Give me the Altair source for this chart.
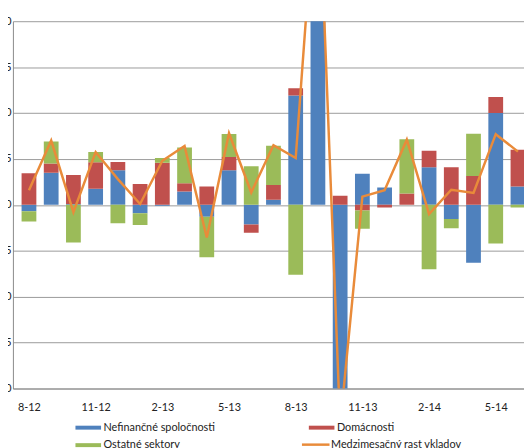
import altair as alt
import pandas as pd

months = ["8-12", "9-12", "10-12", "11-12", "12-12", "1-13", "2-13", "3-13", "4-13",
          "5-13", "6-13", "7-13", "8-13", "9-13", "10-13", "11-13", "12-13", "1-14",
          "2-14", "3-14", "4-14", "5-14", "6-14"]
nefinancne = [-0.07, 0.35, 0.01, 0.175, 0.376, -0.09, -0.01, 0.146, -0.13, 0.376, -0.215, 0.055,
              1.19, 3.8, -2.5, 0.34, 0.19, 0.0, 0.41, -0.155, -0.63, 1.0, 0.20]
domacnosti = [0.344, 0.10, 0.315, 0.29, 0.09, 0.226, 0.46, 0.09, 0.20, 0.145, -0.09, 0.16,
              0.08, 0.0, 0.10, -0.06, -0.03, 0.125, 0.18, 0.41, 0.315, 0.175, 0.40]
ostatne = [-0.11, 0.24, -0.41, 0.11, -0.20, -0.13, 0.05, 0.39, -0.44, 0.25, 0.42, 0.43,
           -0.76, 0.0, 0.0, -0.20, 0.0, 0.59, -0.70, -0.10, 0.46, -0.42, -0.03]
rast = [0.16, 0.70, -0.08, 0.575, 0.28, 0.01, 0.48, 0.64, -0.355, 0.78, 0.135, 0.65,
        0.51, 3.8, -2.4, 0.09, 0.16, 0.71, -0.10, 0.165, 0.13, 0.77, 0.58]

series_names = ["Nefinančné spoločnosti", "Domácnosti", "Ostatné sektory"]
series_colors = ["#4F81BD", "#C0504D", "#9BBB59"]
# legend fills column by column: order entries so the grid reads like the original
legend_order = ["Nefinančné spoločnosti", "Ostatné sektory", "Domácnosti"]
legend_colors = ["#4F81BD", "#9BBB59", "#C0504D"]
line_name = "Medzimesačný rast vkladov"
line_color = "#E98B3A"
tick_values_x = [0, 3, 6, 9, 12, 15, 18, 21]
tick_values_y = [-2, -1.5, -1, -0.5, 0, 0.5, 1, 1.5, 2]

rows = []
for k, (name, vals) in enumerate(zip(series_names, [nefinancne, domacnosti, ostatne])):
    for i, v in enumerate(vals):
        rows.append({"idx": i, "mesiac": months[i], "sektor": name, "hodnota": v, "poradie": k})
bars_df = pd.DataFrame(rows)
line_df = pd.DataFrame({"idx": list(range(len(months))), "mesiac": months,
                        "hodnota": rast, "nazov": [line_name] * len(months)})

month_expr = "[" + ",".join("'" + m + "'" for m in months) + "][datum.value]"

x_scale = alt.Scale(domain=[-0.5, 22.05], nice=False, zero=False)
y_scale = alt.Scale(domain=[-2, 2], nice=False)

x_axis = alt.Axis(values=tick_values_x, labelExpr=month_expr, grid=False, ticks=False,
                  domainColor="#8a8a8a", labelPadding=13, labelFontSize=11,
                  labelColor="#222222", title=None)
y_axis = alt.Axis(values=tick_values_y, labelExpr="replace(format(datum.value, '.1f'), '.', ',')",
                  grid=True, gridColor="#9a9a9a", domainColor="#8a8a8a", ticks=False,
                  labelPadding=2, labelFontSize=11, labelColor="#222222", title=None)

bar_symbol = "M-3.25,-0.5H3.25V0.5H-3.25Z"
line_symbol = "M-3.5,0H3.5"

bars = alt.Chart(bars_df).mark_bar(size=15, clip=True).encode(
    x=alt.X("idx:Q", scale=x_scale, axis=x_axis),
    y=alt.Y("sum(hodnota):Q", scale=y_scale, axis=y_axis, stack="zero"),
    color=alt.Color("sektor:N",
                    scale=alt.Scale(domain=legend_order, range=legend_colors),
                    legend=alt.Legend(orient="none", legendX=71, legendY=407, columns=2,
                                      columnPadding=94, rowPadding=6, padding=0,
                                      symbolType=bar_symbol, symbolSize=64,
                                      symbolStrokeWidth=0, labelOffset=10,
                                      labelFontSize=11, labelColor="#222222", title=None)),
    order=alt.Order("poradie:Q"),
)

line = alt.Chart(line_df).mark_line(strokeWidth=2.5, clip=True).encode(
    x=alt.X("idx:Q", scale=x_scale),
    y=alt.Y("hodnota:Q", scale=y_scale),
    stroke=alt.Stroke("nazov:N", scale=alt.Scale(domain=[line_name], range=[line_color]),
                      legend=alt.Legend(orient="none", legendX=302, legendY=424.5, padding=0,
                                        symbolType=line_symbol, symbolSize=64,
                                        symbolStrokeWidth=2.5, labelOffset=10,
                                        labelFontSize=11, labelColor="#222222", title=None)),
)

chart = alt.layer(bars, line).properties(
    width=519, height=373,
    autosize=alt.AutoSizeParams(type="none"),
    padding={"left": 5, "top": 10, "right": 0, "bottom": 58},
).configure(font="Lato").configure_view(stroke=None)

chart.save("out.html", embed_options={"renderer": "svg", "actions": False})
